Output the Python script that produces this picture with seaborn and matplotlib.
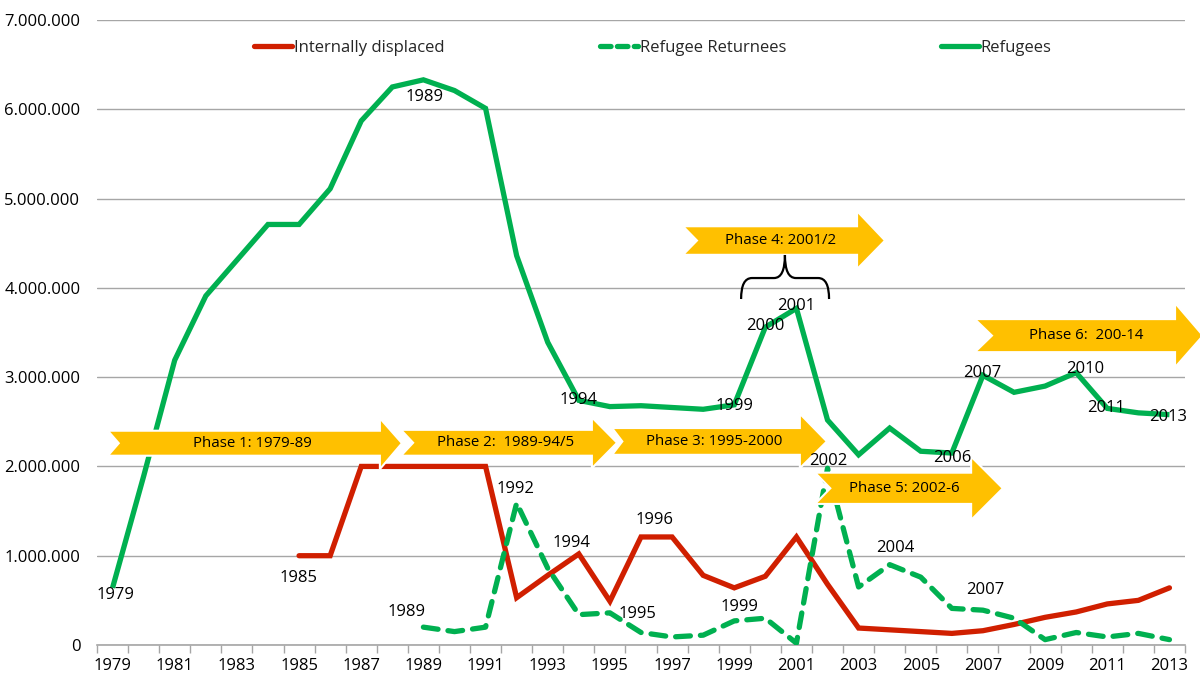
import matplotlib
matplotlib.use("Agg")
import matplotlib.pyplot as plt
from matplotlib.patches import Polygon, PathPatch
from matplotlib.path import Path
from matplotlib.lines import Line2D
import seaborn as sns
import pandas as pd
import numpy as np

# ---------------- data ----------------
ref_years = list(range(1979, 2014))
refugees = [0.64, 1.89, 3.19, 3.91, 4.31, 4.71, 4.71, 5.11, 5.87, 6.25, 6.33, 6.21, 6.01,
            4.36, 3.39, 2.74, 2.67, 2.68, 2.66, 2.64, 2.69, 3.56, 3.77, 2.52, 2.13, 2.43,
            2.17, 2.15, 3.02, 2.83, 2.90, 3.05, 2.65, 2.60, 2.58]

idp_years = list(range(1985, 2014))
idp = [1.00, 1.00, 2.00, 2.00, 2.00, 2.00, 2.00, 0.53, 0.78, 1.02, 0.49, 1.21, 1.21, 0.78,
       0.64, 0.77, 1.21, 0.68, 0.19, 0.17, 0.15, 0.13, 0.16, 0.23, 0.31, 0.37, 0.46, 0.50, 0.64]

ret_years = list(range(1989, 2014))
returnees = [0.20, 0.15, 0.20, 1.59, 0.86, 0.34, 0.36, 0.14, 0.09, 0.11, 0.27, 0.30, 0.02,
             1.98, 0.65, 0.90, 0.76, 0.41, 0.39, 0.30, 0.06, 0.14, 0.09, 0.13, 0.06]

series_names = ["Internally displaced", "Refugee Returnees", "Refugees"]
y_ticks = [0, 1e6, 2e6, 3e6, 4e6, 5e6, 6e6, 7e6]
x_tick_years = list(range(1979, 2014, 2))

phase_labels = ["Phase 1: 1979-89", "Phase 2:  1989-94/5", "Phase 3: 1995-2000",
                "Phase 4: 2001/2", "Phase 5: 2002-6", "Phase 6:  200-14"]

# annotation labels: (text, x-year, value in millions)
year_notes = [("1979", 1979.08, 0.56), ("1989", 1989.05, 6.14), ("1994", 1994.0, 2.74),
              ("1999", 1999.0, 2.68), ("2000", 2000.0, 3.57), ("2001", 2001.0, 3.80),
              ("2006", 2006.0, 2.09), ("2007", 2006.97, 3.05), ("2010", 2010.3, 3.09),
              ("2011", 2010.96, 2.65), ("2013", 2012.95, 2.55),
              ("1985", 1984.97, 0.75), ("1994", 1993.75, 1.14), ("1996", 1996.45, 1.40),
              ("1992", 1991.95, 1.75), ("1995", 1995.9, 0.35), ("1989", 1988.47, 0.37),
              ("1999", 1999.18, 0.43), ("2002", 2002.02, 2.06), ("2004", 2004.17, 1.09),
              ("2007", 2007.07, 0.62)]

# ---------------- style ----------------
sns.set_theme(style="white")
plt.rcParams["font.family"] = ["Open Sans", "DejaVu Sans"]

RED = "#D01F00"
GREEN = "#00B050"
GOLD = "#FFC000"
FS = 12

fig = plt.figure(figsize=(12, 6.79), dpi=100)
ax = fig.add_axes([97 / 1200, 1 - 645 / 679, (1185 - 97) / 1200, (645 - 20) / 679])

df_ref = pd.DataFrame({"year": ref_years, "value": np.array(refugees) * 1e6})
df_idp = pd.DataFrame({"year": idp_years, "value": np.array(idp) * 1e6})
df_ret = pd.DataFrame({"year": ret_years, "value": np.array(returnees) * 1e6})

lw = 3.8
sns.lineplot(data=df_idp, x="year", y="value", color=RED, lw=lw, ax=ax,
             solid_capstyle="round", solid_joinstyle="miter", zorder=3)
sns.lineplot(data=df_ret, x="year", y="value", color=GREEN, lw=lw, ax=ax,
             linestyle=(0, (2.8, 1.9)), dash_capstyle="round", zorder=3)
sns.lineplot(data=df_ref, x="year", y="value", color=GREEN, lw=lw, ax=ax,
             solid_capstyle="butt", solid_joinstyle="miter", zorder=3)

ax.set_xlim(1978.5, 2013.5)
ax.set_ylim(0, 7e6)
ax.set_yticks(y_ticks)
ax.set_yticklabels([f"{int(v):,}".replace(",", ".") for v in y_ticks], fontsize=FS)
ax.set_xticks(x_tick_years)
ax.set_xticklabels([str(y) for y in x_tick_years], fontsize=FS)
ax.set_xticks(np.arange(1978.5, 2014, 1.0), minor=True)
ax.tick_params(axis="x", which="major", length=0, pad=9, colors="#000000")
ax.tick_params(axis="x", which="minor", length=6, width=1, color="#A6A6A6", bottom=True)
ax.tick_params(axis="y", length=0, pad=12, colors="#000000")
ax.set_xlabel("")
ax.set_ylabel("")
ax.grid(axis="y", color="#A6A6A6", lw=1)
ax.set_axisbelow(True)
for s in ["left", "right", "top"]:
    ax.spines[s].set_visible(False)
ax.spines["bottom"].set_color("#A6A6A6")
ax.spines["bottom"].set_linewidth(1.2)

# ---------------- phase arrows ----------------
# (tail, notch, head_base, tip, body_top, body_bot, head_top, head_bot)  in (years, millions)
arrows = [
    (1978.85, 1979.20, 1987.60, 1988.31, 2.40, 2.12, 2.54, 1.97),
    (1988.28, 1988.67, 1994.42, 1995.23, 2.41, 2.12, 2.55, 1.98),
    (1995.07, 1995.40, 2001.11, 2001.98, 2.43, 2.13, 2.59, 1.98),
    (1997.35, 1997.80, 2002.95, 2003.85, 4.69, 4.37, 4.86, 4.21),
    (2001.60, 2002.09, 2006.62, 2007.64, 1.93, 1.58, 2.11, 1.40),
    (2006.74, 2007.29, 2013.18, 2014.08, 3.65, 3.28, 3.83, 3.11),
]
for (t, n, hb, tip, bt, bb, ht, hbo), lab in zip(arrows, phase_labels):
    mid = (bt + bb) / 2
    pts = [(t, bt), (hb, bt), (hb, ht), (tip, mid), (hb, hbo), (hb, bb), (t, bb), (n, mid)]
    pts = [(x, y * 1e6) for x, y in pts]
    poly = Polygon(pts, closed=True, facecolor=GOLD, edgecolor="white", lw=1.5,
                   zorder=4, clip_on=False, joinstyle="miter")
    ax.add_patch(poly)
    ax.text((n + hb) / 2 + 0.1, mid * 1e6, lab, ha="center", va="center",
            fontsize=10.8, color="#000000", zorder=5)

# ---------------- brace ----------------
x0, x1, xc = 1999.22, 2002.05, 2000.63
y_end, y_h, y_top = 3.875e6, 4.11e6, 4.368e6
r = 0.35
verts = [(x0, y_end), (x0, y_h), (x0 + r, y_h), (xc - r, y_h), (xc, y_h), (xc, y_top),
         (xc, y_h), (xc + r, y_h), (x1 - r, y_h), (x1, y_h), (x1, y_end)]
codes = [Path.MOVETO, Path.CURVE3, Path.CURVE3, Path.LINETO, Path.CURVE3, Path.CURVE3,
         Path.CURVE3, Path.CURVE3, Path.LINETO, Path.CURVE3, Path.CURVE3]
ax.add_patch(PathPatch(Path(verts, codes), facecolor="none", edgecolor="black", lw=1.6, zorder=5))

# ---------------- year labels ----------------
for txt, xv, yv in year_notes:
    ax.text(xv, yv * 1e6, txt, ha="center", va="center", fontsize=FS, color="#000000", zorder=6)

# ---------------- legend ----------------
handles = [Line2D([], [], color=RED, lw=lw, solid_capstyle="round"),
           Line2D([], [], color=GREEN, lw=lw, linestyle=(0, (2.0, 1.2)), dash_capstyle="round"),
           Line2D([], [], color=GREEN, lw=lw, solid_capstyle="round")]
fig.legend(handles, series_names, loc="center left", bbox_to_anchor=(254 / 1200, 1 - 48 / 679),
           ncol=3, frameon=False, fontsize=FS, handlelength=2.3, handletextpad=0.1,
           columnspacing=9.3, borderpad=0, borderaxespad=0)

fig.savefig("out.png", dpi=100)
